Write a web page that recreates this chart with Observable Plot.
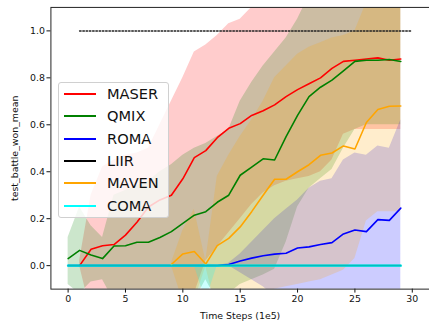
<!DOCTYPE html>
<html>
<head>
<meta charset="utf-8">
<script src="https://cdn.jsdelivr.net/npm/d3@7"></script>
<script src="https://cdn.jsdelivr.net/npm/@observablehq/plot@0.6"></script>
<style>
  html, body { margin: 0; padding: 0; background: #fff; overflow: hidden; }
  #wrap { position: relative; width: 429px; height: 325px; overflow: hidden; font-family: "DejaVu Sans", sans-serif; }
  #legend { position: absolute; left: 58px; top: 82px; width: 111px; height: 136px; box-sizing: border-box;
    background: rgba(255,255,255,0.8); border: 1px solid #d0d0d0; border-radius: 3px; }
  .item { position: absolute; left: 0; height: 20px; font-size: 14.6px; color: #111; }
  .item .sw { position: absolute; left: 5px; top: 9px; width: 32px; height: 0; border-top: 2px solid; }
  .item .lb { position: absolute; left: 48px; top: 0; line-height: 20px; white-space: nowrap; }
</style>
</head>
<body>
<div id="wrap"></div>
<script>
// ---- data ----
const steps = [0,1,2,3,4,5,6,7,8,9,10,11,12,13,14,15,16,17,18,19,20,21,22,23,24,25,26,27,28,29];
const seriesNames = ["MASER", "QMIX", "ROMA", "LIIR", "MAVEN", "COMA"];
const seriesColors = ["#ff0000", "#008000", "#0000ff", "#000000", "#ffa500", "#00ffff"];
const xTicks = [0, 5, 10, 15, 20, 25, 30];
const yTicks = [0.0, 0.2, 0.4, 0.6, 0.8, 1.0];
const targetX = [1, 30];
const targetY = [1.0, 1.0];

const maserMean = [null, 0, 0.07, 0.085, 0.09, 0.13, 0.185, 0.25, 0.28, 0.30, 0.37, 0.46, 0.49, 0.545, 0.585, 0.605, 0.64, 0.66, 0.685, 0.72, 0.75, 0.775, 0.80, 0.84, 0.87, 0.875, 0.88, 0.885, 0.875, 0.88];
const maserLow  = [null, 0, -0.2, -0.2, -0.2, -0.2, -0.2, -0.2, -0.2, -0.2, -0.15, -0.12, 0.02, 0.08, 0.14, 0.2, 0.26, 0.31, 0.34, 0.36, 0.37, 0.38, 0.40, 0.45, 0.56, 0.58, 0.58, 0.58, 0.58, 0.58];
const maserHigh = [null, 0.02, 0.3, 0.42, 0.45, 0.47, 0.48, 0.5, 0.6, 0.7, 0.8, 0.91, 0.94, 0.98, 1.03, 1.05, 1.1, 1.2, 1.2, 1.2, 1.2, 1.2, 1.2, 1.2, 1.2, 1.2, 1.2, 1.2, 1.2, 1.2];

const qmixMean = [0.03, 0.065, 0.045, 0.03, 0.084, 0.085, 0.10, 0.10, 0.12, 0.145, 0.18, 0.215, 0.23, 0.27, 0.30, 0.385, 0.42, 0.455, 0.45, 0.55, 0.64, 0.72, 0.76, 0.79, 0.83, 0.87, 0.875, 0.875, 0.878, 0.87];
const qmixLow  = [-0.08, -0.12, -0.07, -0.06, -0.15, -0.15, -0.15, -0.15, -0.15, -0.15, -0.15, -0.15, -0.06, -0.15, -0.12, -0.08, -0.06, -0.04, -0.015, 0.1, 0.25, 0.33, 0.37, 0.41, 0.5, 0.58, 0.6, 0.6, 0.6, 0.6];
const qmixHigh = [0.12, 0.25, 0.17, 0.12, 0.3, 0.32, 0.34, 0.36, 0.4, 0.43, 0.47, 0.5, 0.52, 0.55, 0.58, 0.7, 0.78, 0.85, 0.91, 0.97, 1.05, 1.15, 1.2, 1.2, 1.2, 1.2, 1.2, 1.2, 1.2, 1.2];

const romaMean = [0, 0, 0, 0, 0, 0, 0, 0, 0, 0, 0, 0, 0, 0, 0.005, 0.02, 0.032, 0.042, 0.049, 0.053, 0.075, 0.08, 0.09, 0.098, 0.135, 0.152, 0.145, 0.196, 0.193, 0.245];
const romaLow  = [0, 0, 0, 0, 0, 0, 0, 0, 0, 0, 0, 0, 0, 0, 0, -0.03, -0.06, -0.09, -0.13, -0.15, -0.15, -0.15, -0.15, -0.15, -0.15, -0.15, -0.15, -0.15, -0.15, -0.15];
const romaHigh = [0, 0, 0, 0, 0, 0, 0, 0, 0, 0, 0, 0, 0, 0, 0.01, 0.05, 0.1, 0.15, 0.2, 0.24, 0.28, 0.33, 0.36, 0.37, 0.45, 0.48, 0.47, 0.51, 0.5, 0.62];

const liirMean = [0, 0, 0, 0, 0, 0, 0, 0, 0, 0, 0, 0, 0, 0, 0, 0, 0, 0, 0, 0, 0, 0, 0, 0, 0, 0, 0, 0, 0, 0];
const liirLow  = [0, 0, 0, 0, 0, 0, 0, 0, 0, 0, 0, 0, 0, 0, 0, 0, 0, 0, 0, 0, 0, 0, 0, 0, 0, 0, 0, 0, 0, 0];
const liirHigh = [0, 0, 0, 0, 0, 0, 0, 0, 0, 0, 0, 0, 0, 0, 0, 0, 0, 0, 0, 0, 0, 0, 0, 0, 0, 0, 0, 0, 0, 0];

const mavenMean = [null, null, null, null, null, null, null, null, null, 0.005, 0.05, 0.06, 0.007, 0.085, 0.116, 0.165, 0.23, 0.30, 0.368, 0.368, 0.40, 0.43, 0.47, 0.48, 0.51, 0.497, 0.61, 0.665, 0.679, 0.68];
const mavenLow  = [null, null, null, null, null, null, null, null, null, 0, -0.15, -0.15, -0.005, -0.2, -0.2, -0.2, -0.2, -0.15, -0.1, -0.09, -0.08, -0.07, -0.06, -0.04, -0.02, 0.03, 0.19, 0.23, 0.23, 0.23];
const mavenHigh = [null, null, null, null, null, null, null, null, null, 0.01, 0.15, 0.24, 0.02, 0.38, 0.47, 0.55, 0.62, 0.7, 0.8, 0.85, 0.9, 0.93, 0.95, 0.97, 0.98, 1.0, 1.12, 1.2, 1.2, 1.2];

const comaMean = [0, 0, 0, 0, 0, 0, 0, 0, 0, 0, 0, 0, 0, 0, 0, 0, 0, 0, 0, 0, 0, 0, 0, 0, 0, 0, 0, 0, 0, 0];
const comaLow  = [0, 0, 0, 0, 0, 0, 0, 0, 0, 0, 0, 0, -0.15, 0, 0, 0, 0, 0, 0, 0, 0, 0, 0, 0, 0, 0, 0, 0, 0, 0];
const comaHigh = [0, 0, 0, 0, 0, 0, 0, 0, 0, 0, 0, 0, 0.01, 0, 0, 0, 0, 0, 0, 0, 0, 0, 0, 0, 0, 0, 0, 0, 0, 0];

// ---- table built from the arrays ----
const means = [maserMean, qmixMean, romaMean, liirMean, mavenMean, comaMean];
const lows  = [maserLow, qmixLow, romaLow, liirLow, mavenLow, comaLow];
const highs = [maserHigh, qmixHigh, romaHigh, liirHigh, mavenHigh, comaHigh];
const rows = seriesNames.flatMap((name, i) => steps.map((x, j) => ({name, x, mean: means[i][j], lo: lows[i][j], hi: highs[i][j]})))
  .filter(d => d.mean != null);
const target = targetX.map((x, i) => ({x, y: targetY[i]}));

const chart = Plot.plot({
  width: 434,
  height: 325,
  marginLeft: 51,
  marginTop: 7,
  marginBottom: 33,
  marginRight: 0,
  style: {fontFamily: "DejaVu Sans", fontSize: "9.5px", color: "#111", background: "transparent"},
  x: {domain: [-1.5, 31.5]},
  y: {domain: [-0.1, 1.1]},
  color: {domain: seriesNames, range: seriesColors},
  marks: [
    Plot.areaY(rows, {x: "x", y1: "lo", y2: "hi", z: "name", fill: "name", fillOpacity: 0.2, clip: true}),
    Plot.lineY(target, {x: "x", y: "y", stroke: "#222", strokeWidth: 1.5, strokeDasharray: "1.5,1.8"}),
    Plot.lineY(rows.filter(d => d.name !== "COMA"), {x: "x", y: "mean", z: "name", stroke: "name", strokeWidth: 1.6, clip: true}),
    Plot.lineY(rows.filter(d => d.name === "COMA"), {x: "x", y: "mean", z: "name", stroke: "name", strokeWidth: 2.6, strokeOpacity: 0.75, clip: true}),
    Plot.axisX({ticks: xTicks, tickSize: 4, tickPadding: 2, label: "Time Steps (1e5)", labelAnchor: "center", labelArrow: "none", labelOffset: 30}),
    Plot.axisY({ticks: yTicks, tickSize: 4, tickPadding: 2, tickFormat: d3.format(".1f"), label: "test_battle_won_mean", labelAnchor: "center", labelArrow: "none", labelOffset: 40}),
    Plot.frame({stroke: "#222", strokeWidth: 1})
  ]
});

const wrap = document.getElementById("wrap");
wrap.appendChild(chart);

// legend built from series names and colours
const legend = document.createElement("div");
legend.id = "legend";
seriesNames.forEach((name, i) => {
  const item = document.createElement("div");
  item.className = "item";
  item.style.top = (1 + i * 22.3) + "px";
  const sw = document.createElement("span");
  sw.className = "sw";
  sw.style.borderTopColor = seriesColors[i];
  const lb = document.createElement("span");
  lb.className = "lb";
  lb.textContent = name;
  item.appendChild(sw);
  item.appendChild(lb);
  legend.appendChild(item);
});
wrap.appendChild(legend);
</script>
</body>
</html>
